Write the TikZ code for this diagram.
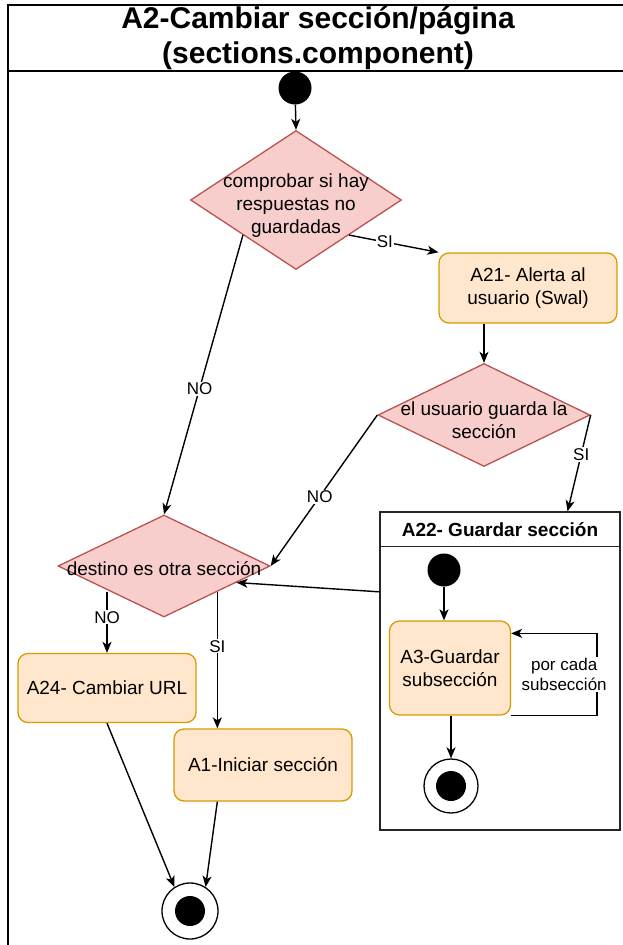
\documentclass[tikz,border=0pt]{standalone}
\usepackage{fontspec}
\setmainfont{Liberation Sans}
\usepackage{tikz}
\usetikzlibrary{shapes.geometric, arrows.meta, calc}
\definecolor{decfill}{HTML}{F8CECC}
\definecolor{decdraw}{HTML}{B85450}
\definecolor{actfill}{HTML}{FFE6CC}
\definecolor{actdraw}{HTML}{D79B00}
\tikzstyle{decision} = [diamond, draw=decdraw, fill=decfill, line width=1.3pt, inner sep=0pt]
\tikzstyle{dtext} = [align=center, font=\fontsize{19}{23}\selectfont]
\tikzstyle{process} = [rectangle, rounded corners=10pt, draw=actdraw, fill=actfill, line width=1.3pt, align=center, font=\fontsize{19}{23}\selectfont]
\tikzstyle{startnode} = [circle, fill=black, minimum size=33pt, inner sep=0pt]
\tikzstyle{stopnode} = [circle, draw=black, fill=white, line width=1.3pt, inner sep=0pt, path picture={\fill[black] (path picture bounding box.center) circle (15pt);}]
\tikzstyle{edgelabel} = [fill=white, inner sep=1pt, font=\fontsize{17}{20}\selectfont]
\tikzstyle{arrow} = [line width=1.4pt, ->, >={Stealth[length=11pt, width=9pt, inset=3pt]}]

\begin{document}
\begin{tikzpicture}[x=1pt, y=-1pt]
  \useasboundingbox (0,0) rectangle (623,945);
  % outer frame
  \draw[line width=1.6pt] (8,945) -- (8,5) -- (623,5);
  \draw[line width=1.6pt] (8,71) -- (623,71);
  \node (title) at (318,38) [align=center, font=\fontsize{30}{35}\bfseries] {A2-Cambiar sección/página\\(sections.component)};

  \node (start) at (295,88) [startnode] {};
  \node (d1) at (296,200) [decision, minimum width=211, minimum height=139,
    label={[dtext, yshift=-6pt]center:comprobar si hay\\respuestas no\\guardadas}] {};
  \node (a21) at (528,288) [process, minimum width=178, minimum height=70] {A21- Alerta al\\usuario (Swal)};
  \node (d2) at (484,415) [decision, minimum width=212, minimum height=103,
    label={[dtext, yshift=-5pt]center:el usuario guarda la\\sección}] {};
  \node (d3) at (164,566) [decision, minimum width=212, minimum height=102,
    label={[dtext, yshift=-3pt]center:destino es otra sección}] {};
  \node (a24) at (107,688) [process, minimum width=178, minimum height=69] {A24- Cambiar URL};
  \node (a1) at (263,765) [process, minimum width=178, minimum height=72] {A1-Iniciar sección};
  \node (end) at (190,911) [stopnode, minimum size=56pt] {};

  % A22 container
  \node (a22) at (500,671) [rectangle, draw=black!85, line width=1.3pt, minimum width=240, minimum height=318] {};
  \draw[black!85, line width=1.3pt] ([yshift=-35pt]a22.north west) -- ([yshift=-35pt]a22.north east);
  \node (a22title) at ([yshift=-18pt]a22.north) [font=\fontsize{19}{23}\bfseries] {A22- Guardar sección};
  \node (istart) at (444,570) [startnode] {};
  \node (a3) at (450,668) [process, minimum width=121, minimum height=94] {A3-Guardar\\subsección};
  \node (iend) at (451,786) [stopnode, minimum size=54pt] {};

  \draw [arrow] (start) -- (d1.north);
  \draw [arrow] (d1.south east) -- node[edgelabel, pos=0.4] {SI} (a21.north west);
  \draw [arrow] (d1.south west) -- node[edgelabel, pos=0.55] {NO} (d3.north);
  \draw [arrow] (a21.south -| d2.north) -- (d2.north);
  \draw [arrow] (d2.east) -- node[edgelabel, pos=0.41] {SI} ($(a22.north west)!0.78!(a22.north east)$);
  \draw [arrow] (d2.west) -- node[edgelabel, pos=0.54] {NO} (d3.east);
  \draw [arrow] (a22.west |- d3.south east) -- ($(d3.east)!0.32!(d3.south)$);
  \draw [arrow] (a24.north |- d3.south west) -- node[edgelabel, pos=0.42] {NO} (a24.north);
  \draw [arrow] (d3.south east) -- node[edgelabel, pos=0.4] {SI} (d3.south east |- a1.north);
  \draw [arrow] (a24.south) -- (end.123);
  \draw [arrow] (d3.south east |- a1.south) -- (end.57);

  \draw [arrow] (istart) -- (istart |- a3.north);
  \draw [arrow] (a3.south east) -- ++(86,0) |- node[edgelabel, pos=0.25, xshift=-33pt, align=center] {por cada\\subsección} ([yshift=-13pt]a3.north east);
  \draw [arrow] (a3.south -| iend) -- (iend);
\end{tikzpicture}
\end{document}
